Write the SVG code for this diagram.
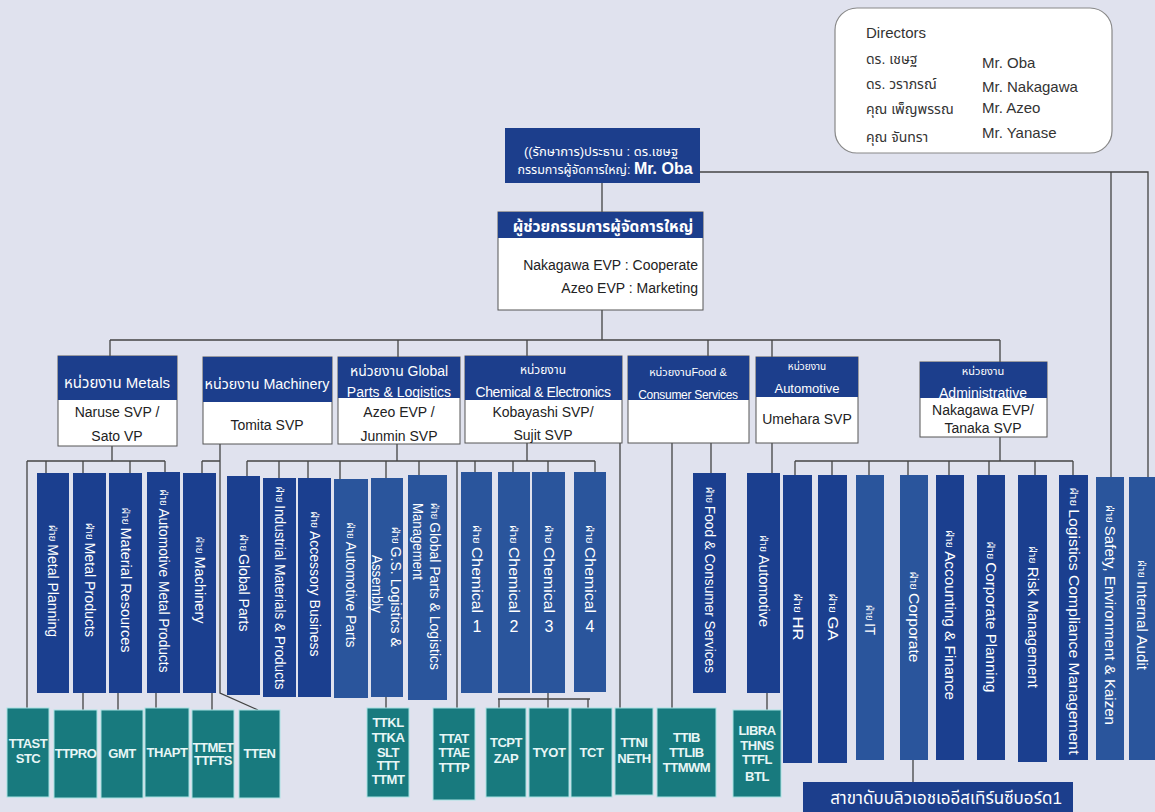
<svg xmlns="http://www.w3.org/2000/svg" width="1155" height="812" viewBox="0 0 1155 812">
<style>
text{font-family:"Liberation Sans","Noto Sans Thai","Noto Sans","DejaVu Sans",sans-serif}
.ln{stroke:#444;stroke-width:1.3;fill:none}
.hd{fill:#1c3e8c}
.bd{fill:#fff;stroke:#555;stroke-width:1}
.bar{fill:#1b3f8f}
.bar2{fill:#2a559c}
.tl{fill:#187a7e;stroke:#a8e2e2;stroke-width:1}
.bl{font-size:14px;fill:#fff;text-anchor:middle;dominant-baseline:central}
.bls{font-size:14px;fill:#fff;text-anchor:start;dominant-baseline:central}
.th{font-size:10px}
.num{font-size:16px;fill:#fff;text-anchor:middle}
.tt{font-size:13px;font-weight:bold;fill:#e8f6f6;text-anchor:middle;letter-spacing:-0.5px}
.ht{fill:#fff;text-anchor:middle}
.bt{fill:#222;text-anchor:middle;font-size:14px}
.dt{fill:#333;font-size:15px}
.dth{fill:#333;font-size:14px}
</style>
<rect width="1155" height="812" fill="#e0e2ee"/>

<g id="connectors">
<path class="ln" d="M602 183V213M602 310V340M110 340H1000M110 340V356M398 340V357M527 340V356M708 340V356M772 340V357M1000 340V362"/>
<path class="ln" d="M700 172H1148V477M1111 172V477"/>
<path class="ln" d="M112 446V461M27 461H165M46 461V473M83 461V473M130 461V473M165 461V472M27 461V708"/>
<path class="ln" d="M83 693V710M118 693V710M156 693V708M212 693V710"/>
<path class="ln" d="M220 444V693L258 710M202 461H220M202 461V473"/>
<path class="ln" d="M397 444V461M247 461H595M247 461V476M279 461V478M308 461V478M340 461V479M386 461V478M419 461V475M386 697V708"/>
<path class="ln" d="M527 443V461M475 461V472M513 461V472M548 461V472M595 461V472M457 461V708"/>
<path class="ln" d="M498 699H590M499 699V708M548 693V708M588 699V708"/>
<path class="ln" d="M620 443V708M672 443V708M711 443V473M772 443V473M767 693V710"/>
<path class="ln" d="M1000 437V461M795 461H1073M795 461V475M832 461V475M869 461V475M908 461V475M949 461V475M989 461V475M1035 461V475M1073 461V475M913 760V782"/>
</g>

<g id="directors">
<rect x="835" y="8" width="277" height="145" rx="22" fill="#fff" stroke="#888" stroke-width="1.2"/>
<text class="dt" x="866" y="38">Directors</text>
<text class="dth" x="866" y="64">ดร. เชษฐ</text>
<text class="dth" x="866" y="89">ดร. วราภรณ์</text>
<text class="dth" x="866" y="114">คุณ เพ็ญพรรณ</text>
<text class="dth" x="866" y="142">คุณ  จันทรา</text>
<text class="dt" x="982" y="68">Mr. Oba</text>
<text class="dt" x="982" y="92">Mr. Nakagawa</text>
<text class="dt" x="982" y="113">Mr. Azeo</text>
<text class="dt" x="982" y="138">Mr. Yanase</text>
</g>

<g id="president">
<rect class="hd" x="505" y="128" width="195" height="55"/>
<text class="ht" x="601" y="156" font-size="13">((รักษาการ)ประธาน : ดร.เชษฐ</text>
<text class="ht" x="605" y="174" font-size="12.5">กรรมการผู้จัดการใหญ่: <tspan font-size="16" font-weight="bold">Mr. Oba</tspan></text>
</g>

<g id="assistant">
<rect class="bd" x="498" y="212" width="205" height="98"/>
<rect class="hd" x="498" y="212" width="205" height="26"/>
<text class="ht" x="603" y="232" font-size="15.5" font-weight="bold">ผู้ช่วยกรรมการผู้จัดการใหญ่</text>
<text class="bt" x="698" y="270" style="text-anchor:end" font-size="15">Nakagawa EVP : Cooperate</text>
<text class="bt" x="698" y="293" style="text-anchor:end" font-size="15">Azeo EVP  : Marketing</text>
</g>

<g id="unit-metals">
<rect class="bd" x="58" y="356" width="119" height="90"/>
<rect class="hd" x="58" y="356" width="119" height="44"/>
<text class="ht" x="117" y="388" font-size="15">หน่วยงาน Metals</text>
<text class="bt" x="117" y="417">Naruse SVP /</text>
<text class="bt" x="117" y="441">Sato VP</text>
</g>
<g id="unit-machinery">
<rect class="bd" x="203" y="357" width="129" height="87"/>
<rect class="hd" x="203" y="357" width="129" height="45"/>
<text class="ht" x="267" y="389" font-size="14.3">หน่วยงาน Machinery</text>
<text class="bt" x="267" y="430">Tomita SVP</text>
</g>
<g id="unit-global">
<rect class="bd" x="338" y="357" width="122" height="87"/>
<rect class="hd" x="338" y="357" width="122" height="41"/>
<text class="ht" x="399" y="376" font-size="14">หน่วยงาน Global</text>
<text class="ht" x="399" y="397" font-size="14">Parts &amp; Logistics</text>
<text class="bt" x="399" y="417">Azeo EVP /</text>
<text class="bt" x="399" y="441">Junmin SVP</text>
</g>
<g id="unit-chemical">
<rect class="bd" x="465" y="356" width="157" height="87"/>
<rect class="hd" x="465" y="356" width="157" height="44"/>
<text class="ht" x="543" y="374" font-size="12">หน่วยงาน</text>
<text class="ht" x="543" y="397" font-size="14" letter-spacing="-0.4">Chemical &amp; Electronics</text>
<text class="bt" x="543" y="417">Kobayashi SVP/</text>
<text class="bt" x="543" y="440">Sujit SVP</text>
</g>
<g id="unit-food">
<rect class="bd" x="628" y="356" width="121" height="87"/>
<rect class="hd" x="628" y="356" width="121" height="44"/>
<text class="ht" x="688" y="376" font-size="11">หน่วยงานFood &amp;</text>
<text class="ht" x="688" y="399" font-size="12" letter-spacing="-0.3">Consumer Services</text>
</g>
<g id="unit-automotive">
<rect class="bd" x="756" y="357" width="102" height="86"/>
<rect class="hd" x="756" y="357" width="102" height="40"/>
<text class="ht" x="807" y="370" font-size="10">หน่วยงาน</text>
<text class="ht" x="807" y="393" font-size="13">Automotive</text>
<text class="bt" x="807" y="424" font-size="13">Umehara SVP</text>
</g>
<g id="unit-admin">
<rect class="bd" x="920" y="362" width="127" height="75"/>
<rect class="hd" x="920" y="362" width="127" height="36"/>
<text class="ht" x="983" y="375" font-size="11">หน่วยงาน</text>
<text class="ht" x="983" y="398" font-size="14">Administrative</text>
<text class="bt" x="983" y="415">Nakagawa EVP/</text>
<text class="bt" x="983" y="433">Tanaka SVP</text>
</g>

<g id="bar-metal-planning"><rect class="bar" x="37" y="473" width="32" height="220"/><text class="bl" transform="translate(53,581) rotate(90)" textLength="112" lengthAdjust="spacingAndGlyphs"><tspan class="th">ฝ่าย </tspan>Metal Planning</text></g>
<g id="bar-metal-products"><rect class="bar" x="73" y="473" width="33" height="220"/><text class="bl" transform="translate(89.5,580) rotate(90)" textLength="114" lengthAdjust="spacingAndGlyphs"><tspan class="th">ฝ่าย </tspan>Metal Products</text></g>
<g id="bar-material-resources"><rect class="bar" x="109" y="473" width="33" height="220"/><text class="bl" transform="translate(125.5,580) rotate(90)" textLength="145" lengthAdjust="spacingAndGlyphs"><tspan class="th">ฝ่าย </tspan>Material  Resources</text></g>
<g id="bar-automotive-metal"><rect class="bar" x="147" y="472" width="33" height="221"/><text class="bl" transform="translate(163.5,581) rotate(90)" textLength="183" lengthAdjust="spacingAndGlyphs"><tspan class="th">ฝ่าย </tspan>Automotive Metal Products</text></g>
<g id="bar-machinery"><rect class="bar" x="183" y="473" width="33" height="220"/><text class="bl" transform="translate(199.5,580) rotate(90)" textLength="87" lengthAdjust="spacingAndGlyphs"><tspan class="th">ฝ่าย </tspan>Machinery</text></g>
<g id="bar-global-parts"><rect class="bar" x="227" y="476" width="33" height="219"/><text class="bl" transform="translate(243.5,583) rotate(90)" textLength="97" lengthAdjust="spacingAndGlyphs"><tspan class="th">ฝ่าย </tspan>Global Parts</text></g>
<g id="bar-industrial"><rect class="bar" x="263" y="478" width="33" height="219"/><text class="bl" transform="translate(279.5,588) rotate(90)" textLength="203" lengthAdjust="spacingAndGlyphs"><tspan class="th">ฝ่าย </tspan>Industrial Materials &amp; Products</text></g>
<g id="bar-accessory"><rect class="bar" x="298" y="478" width="33" height="219"/><text class="bl" transform="translate(314.5,584) rotate(90)" textLength="145" lengthAdjust="spacingAndGlyphs"><tspan class="th">ฝ่าย </tspan>Accessory Business</text></g>
<g id="bar-automotive-parts"><rect class="bar2" x="334" y="479" width="34" height="219"/><text class="bl" transform="translate(351,585) rotate(90)" textLength="125" lengthAdjust="spacingAndGlyphs"><tspan class="th">ฝ่าย </tspan>Automotive Parts</text></g>
<g id="bar-gs-logistics"><rect class="bar2" x="371" y="478" width="32" height="219"/><text class="bl" transform="translate(396,587) rotate(90)" textLength="120" lengthAdjust="spacingAndGlyphs"><tspan class="th">ฝ่าย </tspan>G.S. Logistics &amp;</text><text class="bl" transform="translate(377,584) rotate(90)" textLength="58" lengthAdjust="spacingAndGlyphs">Assembly</text></g>
<g id="bar-gpl-management"><rect class="bar2" x="408" y="475" width="39" height="225"/><text class="bls" transform="translate(435,503) rotate(90)" textLength="167" lengthAdjust="spacingAndGlyphs"><tspan class="th">ฝ่าย </tspan>Global Parts &amp; Logistics</text><text class="bls" transform="translate(418,503) rotate(90)" textLength="77" lengthAdjust="spacingAndGlyphs">Management</text></g>

<g id="bar-chemical-1"><rect class="bar2" x="461" y="472" width="31" height="221"/><text class="bl" transform="translate(476.5,569) rotate(90)" textLength="88" lengthAdjust="spacingAndGlyphs"><tspan class="th">ฝ่าย </tspan>Chemical</text><text class="num" x="477" y="632">1</text></g>
<g id="bar-chemical-2"><rect class="bar2" x="498" y="472" width="32" height="221"/><text class="bl" transform="translate(514,569) rotate(90)" textLength="88" lengthAdjust="spacingAndGlyphs"><tspan class="th">ฝ่าย </tspan>Chemical</text><text class="num" x="514" y="632">2</text></g>
<g id="bar-chemical-3"><rect class="bar2" x="532" y="472" width="33" height="221"/><text class="bl" transform="translate(548.5,569) rotate(90)" textLength="88" lengthAdjust="spacingAndGlyphs"><tspan class="th">ฝ่าย </tspan>Chemical</text><text class="num" x="549" y="632">3</text></g>
<g id="bar-chemical-4"><rect class="bar2" x="574" y="472" width="32" height="220"/><text class="bl" transform="translate(590,569) rotate(90)" textLength="88" lengthAdjust="spacingAndGlyphs"><tspan class="th">ฝ่าย </tspan>Chemical</text><text class="num" x="590" y="632">4</text></g>

<g id="bar-food"><rect class="bar" x="693" y="473" width="33" height="220"/><text class="bl" transform="translate(709.5,580) rotate(90)" textLength="186" lengthAdjust="spacingAndGlyphs"><tspan class="th">ฝ่าย </tspan>Food &amp; Consumer Services</text></g>
<g id="bar-automotive"><rect class="bar" x="747" y="473" width="33" height="220"/><text class="bl" transform="translate(763.5,581) rotate(90)" textLength="92" lengthAdjust="spacingAndGlyphs"><tspan class="th">ฝ่าย </tspan>Automotive</text></g>

<g id="bar-hr"><rect class="bar" x="783" y="475" width="29" height="288"/><text class="bl" transform="translate(797.5,617) rotate(90)" textLength="47" lengthAdjust="spacingAndGlyphs"><tspan class="th">ฝ่าย </tspan>HR</text></g>
<g id="bar-ga"><rect class="bar" x="818" y="475" width="29" height="288"/><text class="bl" transform="translate(832.5,617) rotate(90)" textLength="47" lengthAdjust="spacingAndGlyphs"><tspan class="th">ฝ่าย </tspan>GA</text></g>
<g id="bar-it"><rect class="bar2" x="856" y="475" width="28" height="285"/><text class="bl" transform="translate(870,620) rotate(90)" textLength="30" lengthAdjust="spacingAndGlyphs"><tspan class="th">ฝ่าย </tspan>IT</text></g>
<g id="bar-corporate"><rect class="bar2" x="900" y="475" width="28" height="285"/><text class="bl" transform="translate(914,617) rotate(90)" textLength="91" lengthAdjust="spacingAndGlyphs"><tspan class="th">ฝ่าย </tspan>Corporate</text></g>
<g id="bar-accounting"><rect class="bar" x="936" y="475" width="28" height="285"/><text class="bl" transform="translate(950,615) rotate(90)" textLength="170" lengthAdjust="spacingAndGlyphs"><tspan class="th">ฝ่าย </tspan>Accounting &amp; Finance</text></g>
<g id="bar-corporate-planning"><rect class="bar" x="977" y="475" width="28" height="285"/><text class="bl" transform="translate(991,617) rotate(90)" textLength="151" lengthAdjust="spacingAndGlyphs"><tspan class="th">ฝ่าย </tspan>Corporate Planning</text></g>
<g id="bar-risk"><rect class="bar" x="1018" y="475" width="29" height="287"/><text class="bl" transform="translate(1032.5,617) rotate(90)" textLength="142" lengthAdjust="spacingAndGlyphs"><tspan class="th">ฝ่าย </tspan>Risk Management</text></g>
<g id="bar-logistics-compliance"><rect class="bar" x="1059" y="475" width="29" height="285"/><text class="bl" transform="translate(1073.5,621) rotate(90)" textLength="267" lengthAdjust="spacingAndGlyphs"><tspan class="th">ฝ่าย </tspan>Logistics  Compliance Management</text></g>
<g id="bar-safety"><rect class="bar2" x="1096" y="477" width="28" height="283"/><text class="bl" transform="translate(1110,615) rotate(90)" textLength="220" lengthAdjust="spacingAndGlyphs"><tspan class="th">ฝ่าย </tspan>Safety, Environment &amp; Kaizen</text></g>
<g id="bar-internal-audit"><rect class="bar2" x="1129" y="477" width="26" height="283"/><text class="bl" transform="translate(1142,615) rotate(90)" textLength="110" lengthAdjust="spacingAndGlyphs"><tspan class="th">ฝ่าย </tspan>Internal Audit</text></g>

<g id="co-ttast"><rect class="tl" x="7" y="708" width="42" height="89"/><text class="tt" x="28" y="748">TTAST</text><text class="tt" x="28" y="763">STC</text></g>
<g id="co-ttpro"><rect class="tl" x="54" y="710" width="43" height="88"/><text class="tt" x="75.5" y="758">TTPRO</text></g>
<g id="co-gmt"><rect class="tl" x="101" y="710" width="42" height="88"/><text class="tt" x="122" y="758">GMT</text></g>
<g id="co-thapt"><rect class="tl" x="145" y="708" width="44" height="89"/><text class="tt" x="167" y="757">THAPT</text></g>
<g id="co-ttmet"><rect class="tl" x="192" y="710" width="42" height="88"/><text class="tt" x="213" y="752">TTMET</text><text class="tt" x="213" y="765">TTFTS</text></g>
<g id="co-tten"><rect class="tl" x="239" y="710" width="41" height="88"/><text class="tt" x="259.5" y="758">TTEN</text></g>
<g id="co-ttkl"><rect class="tl" x="367" y="708" width="42" height="89"/><text class="tt" x="388" y="727">TTKL</text><text class="tt" x="388" y="742">TTKA</text><text class="tt" x="388" y="757">SLT</text><text class="tt" x="388" y="770">TTT</text><text class="tt" x="388" y="784">TTMT</text></g>
<g id="co-ttat"><rect class="tl" x="433" y="708" width="42" height="92"/><text class="tt" x="454" y="743">TTAT</text><text class="tt" x="454" y="757">TTAE</text><text class="tt" x="454" y="772">TTTP</text></g>
<g id="co-tcpt"><rect class="tl" x="486" y="708" width="40" height="89"/><text class="tt" x="506" y="747">TCPT</text><text class="tt" x="506" y="763">ZAP</text></g>
<g id="co-tyot"><rect class="tl" x="529" y="708" width="40" height="89"/><text class="tt" x="549" y="757">TYOT</text></g>
<g id="co-tct"><rect class="tl" x="571" y="708" width="41" height="89"/><text class="tt" x="591.5" y="757">TCT</text></g>
<g id="co-ttni"><rect class="tl" x="615" y="708" width="38" height="87"/><text class="tt" x="634" y="747">TTNI</text><text class="tt" x="634" y="763">NETH</text></g>
<g id="co-ttib"><rect class="tl" x="657" y="708" width="59" height="89"/><text class="tt" x="686.5" y="742">TTIB</text><text class="tt" x="686.5" y="757">TTLIB</text><text class="tt" x="686.5" y="772">TTMWM</text></g>
<g id="co-libra"><rect class="tl" x="733" y="710" width="48" height="87"/><text class="tt" x="757" y="735">LIBRA</text><text class="tt" x="757" y="750">THNS</text><text class="tt" x="757" y="764">TTFL</text><text class="tt" x="757" y="781">BTL</text></g>

<g id="branch"><rect class="hd" x="803" y="782" width="270" height="40"/><text class="ht" x="946" y="804" font-size="17">สาขาดับบลิวเอชเออีสเทิร์นซีบอร์ด1</text></g>
</svg>
